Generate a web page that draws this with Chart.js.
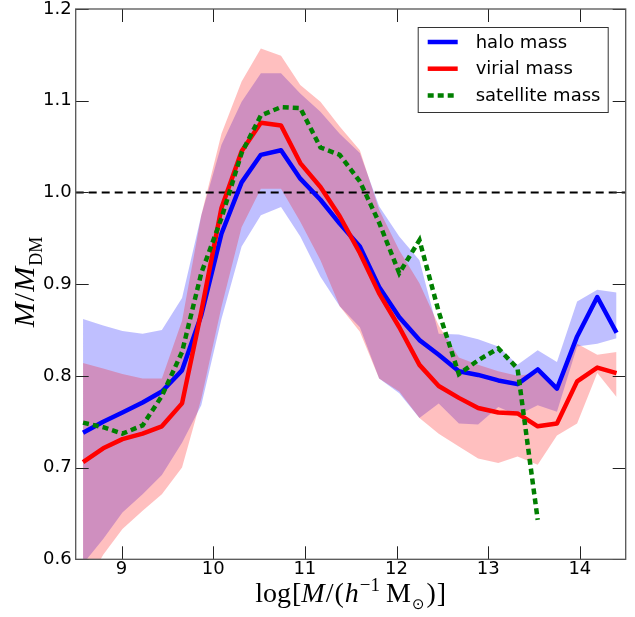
<!DOCTYPE html>
<html>
<head>
<meta charset="utf-8">
<script src="https://cdn.jsdelivr.net/npm/chart.js@4.4.1/dist/chart.umd.min.js"></script>
<style>
  html, body { margin: 0; padding: 0; background: #fff; }
  #wrap { width: 635px; height: 617px; }
</style>
</head>
<body>
<div id="wrap"><canvas id="massChart" width="635" height="617"></canvas></div>
<script>
// bin centres, log[M/(h^-1 Msun)]
const logMass = [8.58, 8.80, 9.01, 9.23, 9.44, 9.66, 9.87, 10.09, 10.31, 10.52, 10.74, 10.95, 11.17, 11.38,
                 11.60, 11.81, 12.03, 12.25, 12.46, 12.68, 12.89, 13.11, 13.32, 13.54, 13.75, 13.97, 14.19, 14.40];

const haloMass = [0.738, 0.750, 0.760, 0.771, 0.783, 0.806, 0.866, 0.955, 1.011, 1.041, 1.046, 1.015, 0.992, 0.966,
                  0.941, 0.897, 0.864, 0.839, 0.823, 0.805, 0.801, 0.795, 0.791, 0.807, 0.786, 0.843, 0.886, 0.847];
const haloUpper = [0.862, 0.855, 0.849, 0.846, 0.850, 0.885, 0.975, 1.052, 1.099, 1.130, 1.130, 1.108, 1.088, 1.064,
                   1.043, 0.985, 0.952, 0.926, 0.846, 0.845, 0.840, 0.832, 0.812, 0.828, 0.815, 0.881, 0.894, 0.891];
const haloLower = [0.595, 0.622, 0.651, 0.671, 0.692, 0.727, 0.768, 0.862, 0.941, 0.975, 0.984, 0.952, 0.908, 0.876,
                   0.853, 0.797, 0.781, 0.754, 0.770, 0.748, 0.747, 0.766, 0.757, 0.768, 0.761, 0.832, 0.835, 0.841];

const virialMass = [0.706, 0.721, 0.731, 0.737, 0.745, 0.770, 0.870, 0.983, 1.045, 1.076, 1.073, 1.032, 1.006, 0.974,
                    0.934, 0.890, 0.853, 0.812, 0.789, 0.776, 0.765, 0.760, 0.759, 0.745, 0.748, 0.794, 0.809, 0.803];
const virialUpper = [0.814, 0.808, 0.802, 0.797, 0.797, 0.860, 0.975, 1.064, 1.121, 1.157, 1.149, 1.117, 1.099, 1.072,
                     1.046, 0.981, 0.937, 0.901, 0.855, 0.820, 0.812, 0.805, 0.800, 0.803, 0.790, 0.835, 0.823, 0.826];
const virialLower = [0.565, 0.605, 0.633, 0.653, 0.671, 0.700, 0.775, 0.875, 0.962, 1.004, 1.004, 0.968, 0.926, 0.876,
                     0.848, 0.797, 0.783, 0.754, 0.737, 0.723, 0.710, 0.705, 0.712, 0.703, 0.735, 0.748, 0.803, 0.777];

// satellite mass stops at the 24th bin
const satelliteMass = [0.749, 0.744, 0.737, 0.746, 0.778, 0.826, 0.912, 0.972, 1.043, 1.084, 1.093, 1.092, 1.049, 1.041,
                       1.012, 0.967, 0.912, 0.948, 0.870, 0.802, 0.817, 0.830, 0.808, 0.643];

const legendLabels = ['halo mass', 'virial mass', 'satellite mass'];
const xTicks = [9, 10, 11, 12, 13, 14];
const yTicks = [0.6, 0.7, 0.8, 0.9, 1.0, 1.1, 1.2];
const xRange = [8.5, 14.5];
const yRange = [0.6, 1.2];
const refLevel = 1.0;

function pts(vals) {
    return vals.map((v, i) => ({ x: logMass[i], y: v }));
}

const tickLen = 13;

// one line of "math" text built from pieces with their own font / offset
function mathText(ctx, parts) {
    let w = 0;
    parts.forEach(p => { ctx.font = p.font; p.w = ctx.measureText(p.t).width; w += p.w + (p.gap || 0); });
    return w;
}
function drawMath(ctx, parts, x, y) {
    let cx = x;
    parts.forEach(p => {
        ctx.font = p.font;
        ctx.fillText(p.t, cx, y + (p.dy || 0));
        cx += p.w + (p.gap || 0);
    });
}

const frameAndLabels = {
    id: 'frameAndLabels',
    afterDraw(chart) {
        const ctx = chart.ctx;
        const a = chart.chartArea;
        const sx = chart.scales.x, sy = chart.scales.y;
        ctx.save();

        // inward ticks on all four sides
        ctx.strokeStyle = '#222';
        ctx.lineWidth = 1;
        ctx.beginPath();
        xTicks.forEach(v => {
            const p = Math.round(sx.getPixelForValue(v)) + 0.5;
            ctx.moveTo(p, a.bottom); ctx.lineTo(p, a.bottom - tickLen);
            ctx.moveTo(p, a.top); ctx.lineTo(p, a.top + tickLen);
        });
        yTicks.forEach(v => {
            const p = Math.round(sy.getPixelForValue(v)) + 0.5;
            ctx.moveTo(a.left, p); ctx.lineTo(a.left + tickLen, p);
            ctx.moveTo(a.right, p); ctx.lineTo(a.right - tickLen, p);
        });
        ctx.stroke();

        // frame
        ctx.strokeStyle = '#555';
        ctx.lineWidth = 1.3;
        ctx.strokeRect(a.left, a.top, a.right - a.left, a.bottom - a.top);

        // legend
        const bw = 190, bh = 85;
        const bx = a.right - 18 - bw, by = a.top + 18;
        ctx.fillStyle = '#fff';
        ctx.fillRect(bx, by, bw, bh);
        ctx.strokeStyle = '#333';
        ctx.lineWidth = 1;
        ctx.strokeRect(bx + 0.5, by + 0.5, bw, bh);
        const legendSets = chart.data.datasets.filter(d => d.inLegend);
        legendSets.forEach((d, i) => {
            const ry = by + 15 + i * 26.7;
            ctx.strokeStyle = d.borderColor;
            ctx.lineWidth = d.borderWidth;
            ctx.setLineDash(d.borderDash || []);
            ctx.lineCap = 'butt';
            ctx.beginPath();
            ctx.moveTo(bx + 10, ry); ctx.lineTo(bx + 40, ry);
            ctx.stroke();
            ctx.setLineDash([]);
            ctx.fillStyle = '#000';
            ctx.font = '18px "DejaVu Sans"';
            ctx.textBaseline = 'middle';
            ctx.textAlign = 'left';
            ctx.fillText(legendLabels[i], bx + 58, ry + 1);
        });

        // axis titles in math style
        ctx.fillStyle = '#000';
        ctx.textBaseline = 'alphabetic';
        ctx.textAlign = 'left';
        const rm = '28px "Liberation Serif"', it = 'italic 28px "Liberation Serif"';
        const xParts = [
            { t: 'log', font: rm, gap: 1 }, { t: '[', font: rm }, { t: 'M', font: it, gap: 1 }, { t: '/', font: rm, gap: 1 },
            { t: '(', font: rm, gap: 1 }, { t: 'h', font: it, gap: 1 },
            { t: '\u22121', font: '19px "Liberation Serif"', dy: -11, gap: 6 },
            { t: 'M', font: rm, gap: 1 }, { t: '\u2299', font: '15px "DejaVu Sans"', dy: 7, gap: 2 },
            { t: ')', font: rm, gap: 1 }, { t: ']', font: rm }
        ];
        const xw = mathText(ctx, xParts);
        drawMath(ctx, xParts, (a.left + a.right) / 2 - xw / 2, 602);

        const yParts = [
            { t: 'M', font: 'italic 30px "Liberation Serif"', gap: 1 }, { t: '/', font: '30px "Liberation Serif"', gap: 1 },
            { t: 'M', font: 'italic 30px "Liberation Serif"', gap: 1 }, { t: 'DM', font: '18px "Liberation Serif"', dy: 8 }
        ];
        const yw = mathText(ctx, yParts);
        ctx.translate(34, 282);
        ctx.rotate(-Math.PI / 2);
        drawMath(ctx, yParts, -yw / 2, 0);
        ctx.restore();
    }
};

// drop the room Chart.js reserves for half tick labels at the axis ends
function noEndPadding(s) {
    s.paddingTop = 0; s.paddingBottom = 0; s.paddingLeft = 0; s.paddingRight = 0;
}

const ctx = document.getElementById('massChart').getContext('2d');
const massChart = new Chart(ctx, {
    type: 'line',
    data: {
        datasets: [
            { data: pts(haloUpper), fill: '+1', backgroundColor: 'rgba(0,0,255,0.25)', borderWidth: 0, pointRadius: 0, order: 10 },
            { data: pts(haloLower), fill: false, borderWidth: 0, pointRadius: 0, order: 10 },
            { data: pts(virialUpper), fill: '+1', backgroundColor: 'rgba(255,0,0,0.25)', borderWidth: 0, pointRadius: 0, order: 9 },
            { data: pts(virialLower), fill: false, borderWidth: 0, pointRadius: 0, order: 9 },
            { data: [{ x: xRange[0], y: refLevel }, { x: xRange[1], y: refLevel }], borderColor: '#000', borderWidth: 2,
              borderDash: [8, 5], pointRadius: 0, fill: false, order: 5 },
            { label: legendLabels[0], inLegend: true, data: pts(haloMass), borderColor: '#0000ff', borderWidth: 4.5,
              pointRadius: 0, fill: false, order: 3, borderJoinStyle: 'round' },
            { label: legendLabels[1], inLegend: true, data: pts(virialMass), borderColor: '#ff0000', borderWidth: 4.5,
              pointRadius: 0, fill: false, order: 2, borderJoinStyle: 'round' },
            { label: legendLabels[2], inLegend: true, data: pts(satelliteMass), borderColor: '#007f00', borderWidth: 4.5,
              borderDash: [6, 4], pointRadius: 0, fill: false, order: 1 }
        ]
    },
    options: {
        responsive: false,
        animation: false,
        devicePixelRatio: 1,
        layout: { padding: { top: 9, right: 9.3, left: 0, bottom: 0 } },
        plugins: { legend: { display: false }, tooltip: { enabled: false } },
        elements: { line: { tension: 0 } },
        scales: {
            x: {
                type: 'linear', min: xRange[0], max: xRange[1],
                afterFit: s => { s.height = 57.7; noEndPadding(s); },
                afterBuildTicks: s => { s.ticks = xTicks.map(v => ({ value: v })); },
                grid: { display: false, drawTicks: false },
                border: { display: false },
                ticks: { color: '#000', font: { family: 'DejaVu Sans', size: 18 }, padding: -1, maxRotation: 0,
                         callback: v => String(v) }
            },
            y: {
                type: 'linear', min: yRange[0], max: yRange[1],
                afterFit: s => { s.width = 75.7; noEndPadding(s); },
                afterBuildTicks: s => { s.ticks = yTicks.map(v => ({ value: v })); },
                grid: { display: false, drawTicks: false },
                border: { display: false },
                ticks: { color: '#000', font: { family: 'DejaVu Sans', size: 18 }, padding: 4,
                         callback: v => Number(v).toFixed(1) }
            }
        }
    },
    plugins: [frameAndLabels]
});
</script>
</body>
</html>
